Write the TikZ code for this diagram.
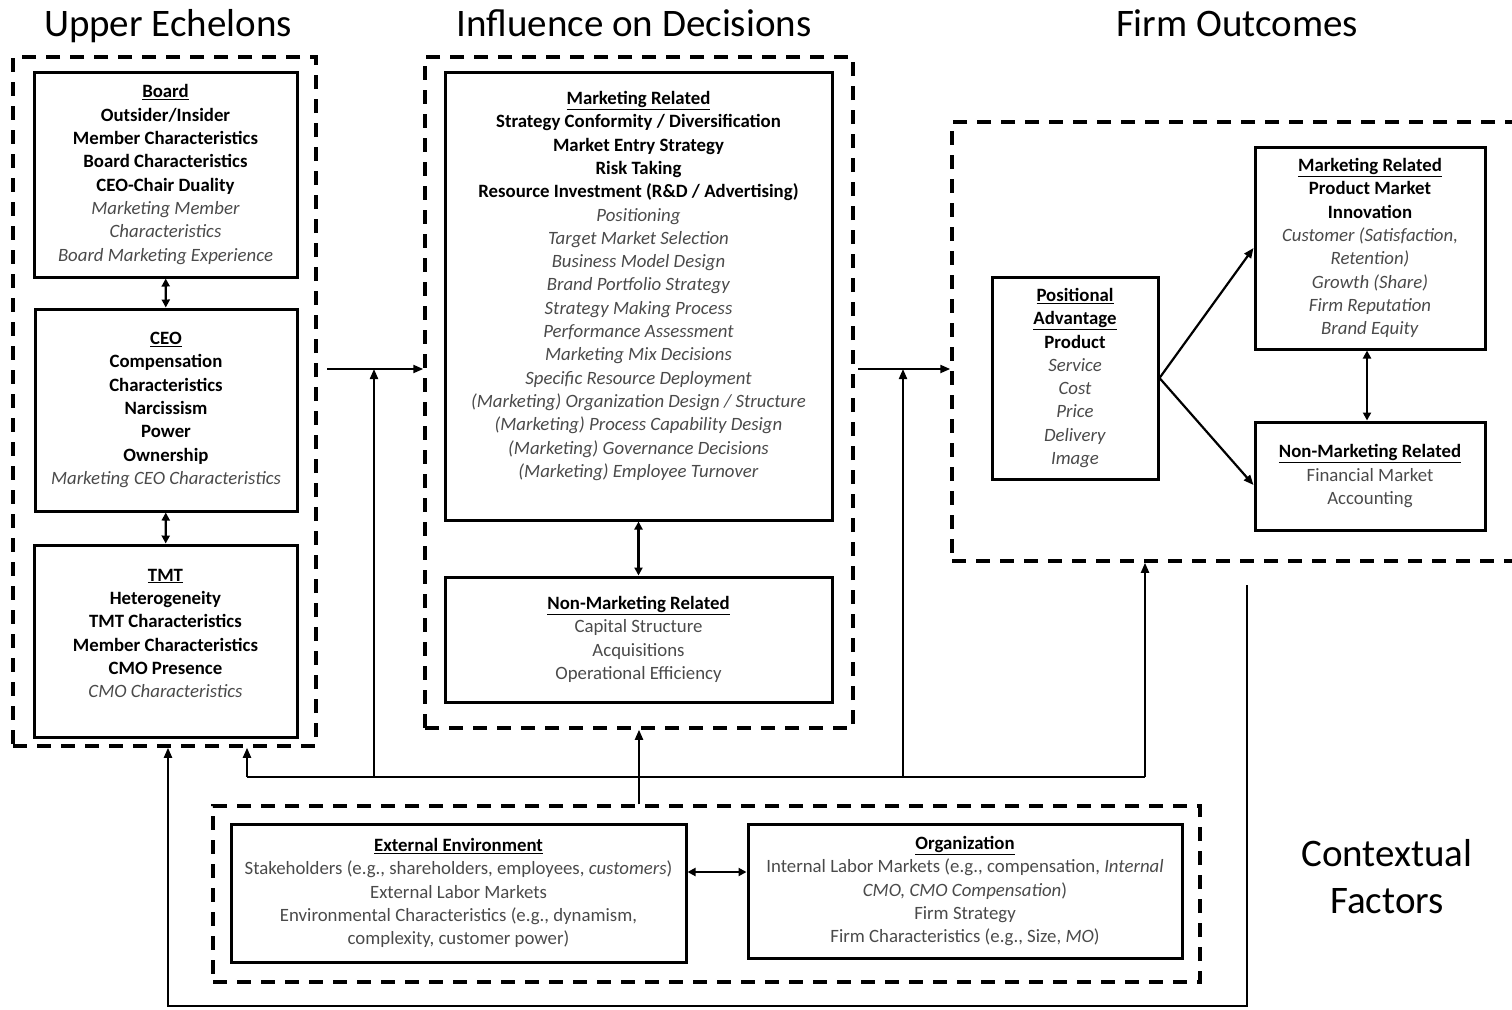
\documentclass[tikz,border=0pt]{standalone}
\usepackage{fontspec}
\setmainfont{Carlito}
\usetikzlibrary{arrows.meta}

\definecolor{txtgray}{HTML}{4A4A4A}
\newcommand{\hdr}[1]{\textbf{\underline{#1}}}
\newcommand{\grayit}[1]{\textcolor{txtgray}{\textit{#1}}}
\newcommand{\grayrm}[1]{\textcolor{txtgray}{#1}}

\begin{document}
\begin{tikzpicture}[x=1pt, y=-1pt,
	box/.style={draw, line width=3pt, align=center, inner sep=0pt, font=\fontsize{18.8}{23.3}\selectfont},
	group/.style={draw, line width=3.5pt, dash pattern=on 14pt off 10pt, inner sep=0pt},
	title/.style={font=\fontsize{39}{47}\selectfont, align=center},
	arr/.style={line width=2.2pt, -{Triangle[length=10pt,width=8pt]}},
	dbl/.style={line width=2.2pt, {Triangle[length=8pt,width=8pt]}-{Triangle[length=8pt,width=8pt]}},
	feed/.style={line width=2pt}]
\useasboundingbox (0,0) rectangle (1512,1009);

% titles
\path (168,36) node[title, anchor=base] (uetitle) {Upper Echelons}
		(634,36) node[title, anchor=base] (inftitle) {Influence on Decisions}
		(1237,36) node[title, anchor=base] (fotitle) {Firm Outcomes}
		(1387,877) node[title] (ctxtitle) {Contextual\\Factors};

% dashed groups
\path (164.5,401.5) node[group, minimum width=303pt, minimum height=689pt] (ue) {}
		(639,392.5) node[group, minimum width=428pt, minimum height=671pt] (infl) {}
		(1242,341.5) node[group, minimum width=580pt, minimum height=439pt] (fo) {}
		(706.5,894) node[group, minimum width=987pt, minimum height=176pt] (ctx) {};

% upper echelons
\path (165.5,174.5) node[box, minimum width=263pt, minimum height=205pt] (board)
		{\hdr{Board}\\ \textbf{Outsider/Insider}\\ \textbf{Member Characteristics}\\ \textbf{Board Characteristics}\\
		\textbf{CEO-Chair Duality}\\ \grayit{Marketing Member}\\ \grayit{Characteristics}\\ \grayit{Board Marketing Experience}}
		(166,410) node[box, minimum width=262pt, minimum height=202pt] (ceo)
		{\hdr{CEO}\\ \textbf{Compensation}\\ \textbf{Characteristics}\\ \textbf{Narcissism}\\ \textbf{Power}\\
		\textbf{Ownership}\\ \grayit{Marketing CEO Characteristics}}
		(165.5,641) node[box, minimum width=263pt, minimum height=192pt] (tmt)
		{\hdr{TMT}\\ \textbf{Heterogeneity}\\ \textbf{TMT Characteristics}\\ \textbf{Member Characteristics}\\
		\textbf{CMO Presence}\\ \grayit{CMO Characteristics}\\[-8pt]\mbox{}};

% influence on decisions
\path (638.5,296) node[box, minimum width=387pt, minimum height=448pt] (mktdec)
		{\hdr{Marketing Related}\\ \textbf{Strategy Conformity / Diversification}\\ \textbf{Market Entry Strategy}\\
		\textbf{Risk Taking}\\ \textbf{Resource Investment (R\&D / Advertising)}\\ \grayit{Positioning}\\
		\grayit{Target Market Selection}\\ \grayit{Business Model Design}\\ \grayit{Brand Portfolio Strategy}\\
		\grayit{Strategy Making Process}\\ \grayit{Performance Assessment}\\ \grayit{Marketing Mix Decisions}\\
		\grayit{Specific Resource Deployment}\\ \grayit{(Marketing) Organization Design / Structure}\\
		\grayit{(Marketing) Process Capability Design}\\ \grayit{(Marketing) Governance Decisions}\\
		\grayit{(Marketing) Employee Turnover}\\ \mbox{}}
		(638.5,639.5) node[box, minimum width=387pt, minimum height=125pt] (nonmktdec)
		{\hdr{Non-Marketing Related}\\ \grayrm{Capital Structure}\\ \grayrm{Acquisitions}\\ \grayrm{Operational Efficiency}};

% firm outcomes
\path (1075,378) node[box, minimum width=166pt, minimum height=202pt] (posadv)
		{\hdr{Positional}\\ \hdr{Advantage}\\ \textbf{Product}\\ \grayit{Service}\\ \grayit{Cost}\\
		\grayit{Price}\\ \grayit{Delivery}\\ \grayit{Image}}
		(1370,248) node[box, minimum width=230pt, minimum height=202pt] (mktout)
		{\hdr{Marketing Related}\\ \textbf{Product Market}\\ \textbf{Innovation}\\ \grayit{Customer (Satisfaction,}\\
		\grayit{Retention)}\\ \grayit{Growth (Share)}\\ \grayit{Firm Reputation}\\ \grayit{Brand Equity}}
		(1370,476) node[box, minimum width=230pt, minimum height=108pt] (nonmktout)
		{\hdr{Non-Marketing Related}\\ \grayrm{Financial Market}\\ \grayrm{Accounting}};

% contextual factors
\path (458.5,893) node[box, minimum width=455pt, minimum height=138pt] (extenv)
		{\hdr{External Environment}\\ \grayrm{Stakeholders (e.g., shareholders, employees, \textit{customers})}\\
		\grayrm{External Labor Markets}\\ \grayrm{Environmental Characteristics (e.g., dynamism,}\\
		\grayrm{complexity, customer power)}}
		(965,891) node[box, minimum width=434pt, minimum height=134pt] (org)
		{\hdr{Organization}\\ \grayrm{Internal Labor Markets (e.g., compensation, \textit{Internal}}\\
		\grayrm{\textit{CMO, CMO Compensation})}\\ \grayrm{Firm Strategy}\\ \grayrm{Firm Characteristics (e.g., Size, \textit{MO})}};

\coordinate (uein) at (327,369);
\coordinate (foin) at (858,369);
\coordinate (fbl) at (247,777);
\coordinate (fbue) at (374,777);
\coordinate (fbfo) at (903,777);
\coordinate (fbr) at (1145,777);
\coordinate (loopstart) at (1247,585);
\coordinate (loopr) at (1247,1006);
\coordinate (loopl) at (168,1006);

% links inside groups
\draw[dbl] (node cs:name=board) -- (node cs:name=ceo);
\draw[dbl] (node cs:name=ceo) -- (node cs:name=tmt);
\draw[dbl] (node cs:name=mktdec) -- (node cs:name=nonmktdec);
\draw[dbl] (mktout.south -| 1367,0) -- (nonmktout.north -| 1367,0);
\draw[dbl] (extenv.east |- 0,872) -- (org.west |- 0,872);
\draw[arr] (posadv.east) -- (mktout.west);
\draw[arr] (posadv.east) -- ([yshift=-9pt]nonmktout.west);

% main flow
\draw[arr] (uein) -- (uein -| infl.west);
\draw[arr] (foin) -- (foin -| fo.west);

% context feedback
\draw[arr, feed] (infl.south |- ctx.north) -- (infl.south);
\draw[feed] (fbl) -- (fbr);
\draw[arr, feed] (fbl) -- (fbl |- ue.south);
\draw[arr, feed] (fbue) -- (uein -| fbue);
\draw[arr, feed] (fbfo) -- (foin -| fbfo);
\draw[arr, feed] (fbr) -- (fbr |- fo.south);
\draw[arr, feed] (loopstart) -- (loopr) -- (loopl) -- (loopl |- ue.south);
\end{tikzpicture}
\end{document}
